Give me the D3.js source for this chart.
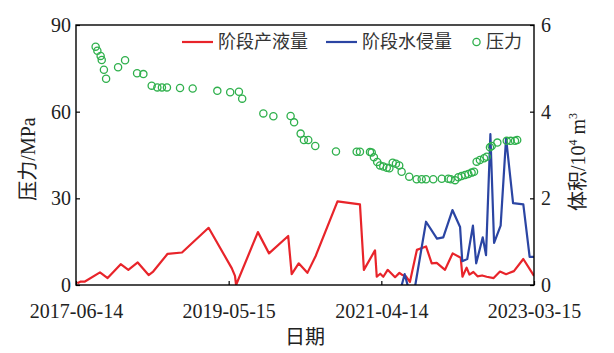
<!DOCTYPE html>
<html>
<head>
<meta charset="utf-8">
<script src="https://cdn.jsdelivr.net/npm/d3@7"></script>
<style>
  body { margin: 0; background: #fff; }
</style>
</head>
<body>
<script>
// x tick labels (dates)
var xTicks = ["2017-06-14", "2019-05-15", "2021-04-14", "2023-03-15"];
var leftTicks = [0, 30, 60, 90];
var rightTicks = [0, 2, 4, 6];

// 压力 (MPa)
var pressureDates = ["2017-09-12","2017-09-20","2017-10-05","2017-10-10","2017-10-20","2017-10-30","2017-12-24","2018-01-25",
  "2018-03-21","2018-04-19","2018-05-27","2018-06-22","2018-07-13","2018-08-05","2018-10-04","2018-12-01","2019-03-24",
  "2019-05-22","2019-07-01","2019-07-16","2019-10-21","2019-12-06","2020-02-23","2020-03-10","2020-04-09","2020-04-24",
  "2020-05-14","2020-06-15","2020-09-18","2020-12-22","2021-01-06","2021-02-21","2021-03-01","2021-03-11","2021-03-26",
  "2021-04-08","2021-04-23","2021-05-09","2021-05-21","2021-06-05","2021-06-20","2021-07-05","2021-07-16","2021-08-20",
  "2021-09-23","2021-10-16","2021-11-05","2021-12-08","2022-01-16","2022-02-15","2022-02-26","2022-03-18","2022-04-02",
  "2022-04-17","2022-05-03","2022-05-18","2022-06-02","2022-06-13","2022-06-25","2022-07-10","2022-07-29","2022-08-10",
  "2022-08-25","2022-09-02","2022-09-28","2022-11-10","2022-11-28","2022-12-18","2022-12-28"];
var pressureValues = [82.5,81.1,79.3,77.9,74.5,71.4,75.4,77.8,
  73.3,73.0,69.0,68.4,68.4,68.4,68.2,68.0,67.2,
  66.7,66.9,64.5,59.4,58.4,58.5,56.3,52.4,50.2,
  50.2,48.1,46.2,46.1,46.1,46.0,45.9,44.2,42.6,
  41.4,41.0,40.6,40.4,42.3,42.0,41.4,39.2,37.5,
  36.6,36.6,36.6,36.6,36.8,36.8,36.6,36.3,37.3,
  37.7,38.1,38.4,38.9,39.2,42.7,43.3,43.9,44.4,
  47.7,48.1,49.3,49.9,49.9,49.9,50.2];

// 阶段产液量 (10^4 m3)
var liquidDates = ["2017-06-20","2017-07-06","2017-07-25","2017-10-02","2017-11-06","2018-01-05","2018-02-09","2018-03-24",
  "2018-05-13","2018-06-03","2018-08-08","2018-10-13","2019-02-12","2019-05-29","2019-06-13","2019-06-18","2019-09-26",
  "2019-11-16","2020-02-12","2020-02-28","2020-03-31","2020-05-10","2020-06-17","2020-09-25","2021-01-06","2021-01-24",
  "2021-03-16","2021-03-24","2021-04-09","2021-04-23","2021-05-13","2021-06-16","2021-07-06","2021-07-20","2021-08-05",
  "2021-08-23","2021-09-24","2021-11-05","2021-12-01","2021-12-24","2022-01-31","2022-03-07","2022-04-13","2022-04-21",
  "2022-05-10","2022-05-23","2022-06-10","2022-06-29","2022-07-20","2022-08-10","2022-09-11","2022-10-10","2022-11-07",
  "2022-12-13","2023-01-25","2023-03-15"];
var liquidValues = [0.04,0.08,0.08,0.29,0.16,0.48,0.35,0.52,
  0.23,0.31,0.72,0.75,1.32,0.39,0.21,0.0,1.22,
  0.73,1.13,0.25,0.50,0.28,0.67,1.93,1.86,0.35,
  0.80,0.19,0.26,0.19,0.35,0.18,0.28,0.23,0.20,
  0.07,0.81,0.89,0.50,0.51,0.35,0.73,0.63,0.19,
  0.40,0.24,0.30,0.20,0.22,0.19,0.16,0.31,0.25,
  0.32,0.60,0.21];

// 阶段水侵量 (10^4 m3)
var waterDates = ["2021-07-14","2021-07-30","2021-08-15","2021-09-10","2021-11-05","2021-12-25","2022-01-23","2022-03-06",
  "2022-04-10","2022-04-20","2022-05-13","2022-06-08","2022-06-23","2022-07-23","2022-08-07","2022-08-27","2022-09-13",
  "2022-10-13","2022-11-07","2022-12-09","2023-01-25","2023-02-23","2023-03-15"];
var waterValues = [-0.05,0.25,-0.05,-0.2,1.46,1.07,1.10,1.73,
  1.34,0.55,0.60,1.37,0.50,1.10,0.69,3.48,0.97,
  1.37,3.39,1.89,1.86,0.65,0.65];

var W = 614, H = 353;
var margin = {left: 76, top: 25, right: 80, bottom: 68};
var w = W - margin.left - margin.right, h = H - margin.top - margin.bottom;
var parse = d3.timeParse("%Y-%m-%d");
var serif = "'Liberation Serif', 'Noto Sans CJK SC'";
var cjk = "'Noto Sans CJK SC', sans-serif";

var svg = d3.select("body").append("svg").attr("width", W).attr("height", H);
var g = svg.append("g").attr("transform", "translate(" + margin.left + "," + margin.top + ")");

var x = d3.scaleTime().domain([parse(xTicks[0]), parse(xTicks[3])]).range([0, w]);
var yL = d3.scaleLinear().domain([0, 90]).range([h, 0]);
var yR = d3.scaleLinear().domain([0, 6]).range([h, 0]);

g.append("clipPath").attr("id", "clip").append("rect").attr("width", w).attr("height", h);

var line = d3.line().x(function(d){ return x(d.date); }).y(function(d){ return yR(d.v); });

var liquid = liquidDates.map(function(s, i){ return {date: parse(s), v: liquidValues[i]}; });
var water = waterDates.map(function(s, i){ return {date: parse(s), v: waterValues[i]}; });
var pressure = pressureDates.map(function(s, i){ return {date: parse(s), v: pressureValues[i]}; });

var plot = g.append("g").attr("clip-path", "url(#clip)");
plot.append("path").datum(liquid).attr("d", line)
  .attr("fill", "none").attr("stroke", "#e8242a").attr("stroke-width", 2.2).attr("stroke-linejoin", "round");
plot.append("path").datum(water).attr("d", line)
  .attr("fill", "none").attr("stroke", "#2b45a3").attr("stroke-width", 2.2).attr("stroke-linejoin", "round");

g.selectAll(".pt").data(pressure).enter().append("circle")
  .attr("class", "pt")
  .attr("cx", function(d){ return x(d.date); })
  .attr("cy", function(d){ return yL(d.v); })
  .attr("r", 3.6)
  .attr("fill", "none").attr("stroke", "#2fb04c").attr("stroke-width", 1.3);

// axes, ticks pointing inward
var xAxis = d3.axisBottom(x).tickValues(xTicks.map(parse)).tickSizeInner(-4).tickSizeOuter(0).tickPadding(19)
  .tickFormat(d3.timeFormat("%Y-%m-%d"));
var lAxis = d3.axisLeft(yL).tickValues(leftTicks).tickSizeInner(-4).tickSizeOuter(0).tickPadding(5)
  .tickFormat(d3.format("d"));
var rAxis = d3.axisRight(yR).tickValues(rightTicks).tickSizeInner(-4).tickSizeOuter(0).tickPadding(7)
  .tickFormat(d3.format("d"));

[g.append("g").attr("transform", "translate(0," + h + ")").call(xAxis),
 g.append("g").call(lAxis),
 g.append("g").attr("transform", "translate(" + w + ",0)").call(rAxis)].forEach(function(a){
  a.attr("font-family", null).attr("font-size", null);
  a.select(".domain").remove();
  a.selectAll("line").attr("stroke", "#000").attr("stroke-width", 1.2);
  a.selectAll("text").style("font-family", serif).style("font-size", "20px").attr("fill", "#222");
});

g.append("rect").attr("width", w).attr("height", h)
  .attr("fill", "none").attr("stroke", "#000").attr("stroke-width", 1.4);

// axis titles
svg.append("text").style("font-family", serif).style("font-size", "20px").attr("fill", "#222")
  .attr("transform", "translate(28," + (margin.top + 134) + ") rotate(-90)")
  .attr("text-anchor", "middle").attr("dy", "0.35em").text("压力/MPa");

var rt = svg.append("text").style("font-family", serif).style("font-size", "20px").attr("fill", "#222")
  .attr("transform", "translate(578," + (margin.top + 137) + ") rotate(-90)")
  .attr("text-anchor", "middle").attr("dy", "0.35em");
rt.append("tspan").text("体积/10");
rt.append("tspan").style("font-size", "12px").attr("dy", "-8").text("4");
rt.append("tspan").attr("dy", "8").text(" m");
rt.append("tspan").style("font-size", "12px").attr("dy", "-8").text("3");

svg.append("text").style("font-family", serif).style("font-size", "20px").attr("fill", "#222")
  .attr("x", margin.left + w / 2).attr("y", 344)
  .attr("text-anchor", "middle").text("日期");

// legend
var leg = svg.append("g").style("font-family", cjk).style("font-size", "18px").attr("fill", "#333");
var ly = 42;
leg.append("line").attr("x1", 182).attr("x2", 213).attr("y1", ly).attr("y2", ly)
  .attr("stroke", "#e8242a").attr("stroke-width", 2.2);
leg.append("text").attr("x", 218).attr("y", ly).attr("dy", "0.36em").text("阶段产液量");
leg.append("line").attr("x1", 326).attr("x2", 357).attr("y1", ly).attr("y2", ly)
  .attr("stroke", "#2b45a3").attr("stroke-width", 2.2);
leg.append("text").attr("x", 362).attr("y", ly).attr("dy", "0.36em").text("阶段水侵量");
leg.append("circle").attr("cx", 476.5).attr("cy", ly).attr("r", 3.6)
  .attr("fill", "none").attr("stroke", "#2fb04c").attr("stroke-width", 1.3);
leg.append("text").attr("x", 486).attr("y", ly).attr("dy", "0.36em").text("压力");
</script>
</body>
</html>
